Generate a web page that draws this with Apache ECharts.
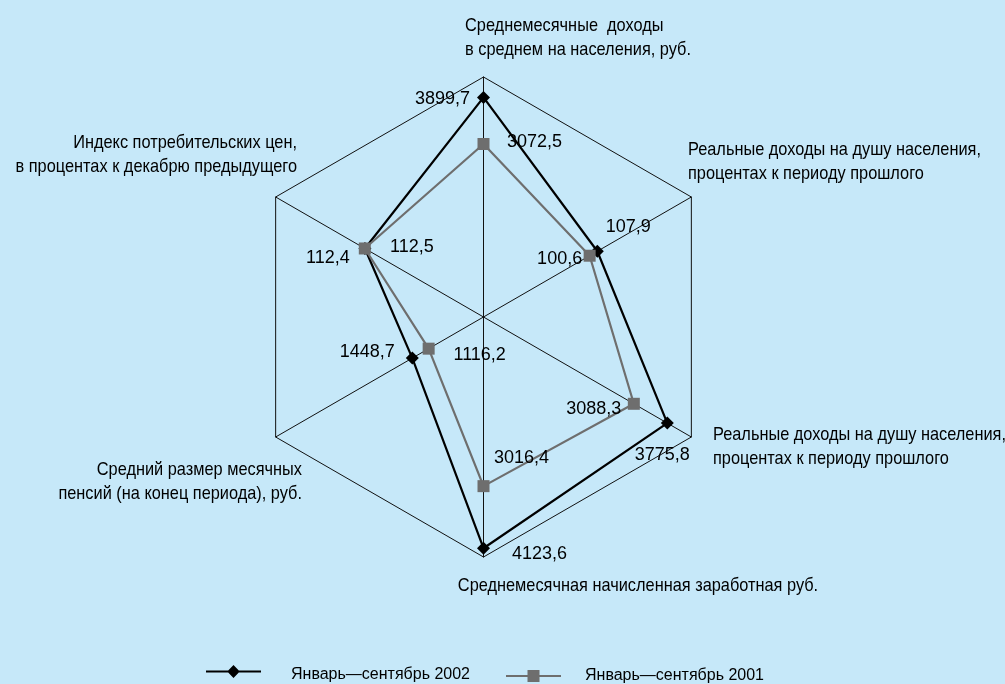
<!DOCTYPE html>
<html>
<head>
<meta charset="utf-8">
<script src="https://cdn.jsdelivr.net/npm/echarts@6/dist/echarts.min.js"></script>
<style>
  html, body { margin: 0; padding: 0; background: #c6e8f9; }
  #chart { width: 1005px; height: 684px; }
</style>
</head>
<body>
<div id="chart"></div>
<script>
// Indicators, listed counter-clockwise from the top axis
const categories = [
  'Среднемесячные  доходы\nв среднем на населения, руб.',
  'Индекс потребительских цен,\nв процентах к декабрю предыдущего',
  'Средний размер месячных\nпенсий (на конец периода), руб.',
  'Среднемесячная начисленная заработная руб.',
  'Реальные доходы на душу населения,\nпроцентах к периоду прошлого',
  'Реальные доходы на душу населения,\nпроцентах к периоду прошлого'
];
const axisMax = [4262, 197, 4230, 4280, 4270, 197];

const seriesNames = ['Январь—сентябрь 2002', 'Январь—сентябрь 2001'];
const values2002 = [3899.7, 112.4, 1448.7, 4123.6, 3775.8, 107.9];
const values2001 = [3072.5, 112.5, 1116.2, 3016.4, 3088.3, 100.6];

// where each value label sits relative to its vertex [dx, dy]
const labelShift2002 = [[-41, 2], [-37, 9], [-45, -6], [56, 6], [-5, 32], [31, -24]];
const labelShift2001 = [[51, -2], [47, -1], [51, 6], [38, -28], [-40, 5], [-30, 3]];

// where each indicator caption goes: [x, y, align]
const captionPlace = [
  [465, 38, 'left'],
  [297, 155, 'right'],
  [302, 482, 'right'],
  [638, 586, 'center'],
  [713, 447, 'left'],
  [688, 162, 'left']
];

const FONT = "'Liberation Sans', Arial, sans-serif";
const VALUE_FS = 18;
const CAPTION_FS = 19;
const CAPTION_SCALE = 0.86;   // condensed look for the captions
const LEGEND_FS = 16;

const fmt = v => v.toFixed(1).replace('.', ',');

function valueLabel(values, shifts) {
  const rich = {};
  shifts.forEach(([dx, dy], i) => {
    rich['v' + i] = {
      fontFamily: FONT, fontSize: VALUE_FS, color: '#000',
      padding: [dy > 0 ? 2 * dy : 0, dx < 0 ? -2 * dx : 0, dy < 0 ? -2 * dy : 0, dx > 0 ? 2 * dx : 0]
    };
  });
  return {
    show: true,
    position: 'inside',
    fontFamily: FONT, fontSize: VALUE_FS, color: '#000',
    formatter: p => {
      const i = p.dimensionIndex != null ? p.dimensionIndex : values.indexOf(p.value);
      return '{v' + i + '|' + fmt(values[i]) + '}';
    },
    rich
  };
}

function legendText(pad) {
  return {
    fontFamily: FONT, fontSize: LEGEND_FS, color: '#000',
    rich: { t: { fontFamily: FONT, fontSize: LEGEND_FS, color: '#000', padding: pad } }
  };
}

const chart = echarts.init(document.getElementById('chart'), null, { renderer: 'canvas' });

chart.setOption({
  backgroundColor: '#c6e8f9',
  animation: false,
  textStyle: { fontFamily: FONT },
  radar: {
    center: [483.5, 317],
    radius: 240,
    startAngle: 90,
    splitNumber: 1,
    shape: 'polygon',
    indicator: categories.map((name, i) => ({ name, min: 0, max: axisMax[i] })),
    axisName: { show: false },
    axisLine: { lineStyle: { color: '#111', width: 1 } },
    splitLine: { lineStyle: { color: '#111', width: 1 } },
    splitArea: { show: false },
    axisTick: { show: false },
    axisLabel: { show: false }
  },
  legend: [
    {
      left: 206, top: 665, padding: 0, itemWidth: 55, itemHeight: 13,
      selectedMode: false,
      itemStyle: { borderWidth: 0 },
      data: [{ name: seriesNames[0], icon: 'path://M0,5.5H22.2L27.5,0L32.8,5.5H55V7.5H32.8L27.5,13L22.2,7.5H0Z' }],
      formatter: name => '{t|' + name + '}',
      textStyle: legendText([7, 0, 0, 25])
    },
    {
      left: 506, top: 668, padding: 0, itemWidth: 55, itemHeight: 12,
      selectedMode: false,
      itemStyle: { borderWidth: 0 },
      data: [{ name: seriesNames[1], icon: 'path://M0,5H21.5V0H33.5V5H55V7H33.5V12H21.5V7H0Z' }],
      formatter: name => '{t|' + name + '}',
      textStyle: legendText([0, 0, 0, 19])
    }
  ],
  graphic: categories.map((text, i) => ({
    type: 'text',
    x: captionPlace[i][0],
    y: captionPlace[i][1],
    scaleX: CAPTION_SCALE,
    silent: true,
    style: {
      text,
      fill: '#000',
      font: CAPTION_FS + 'px ' + FONT,
      align: captionPlace[i][2],
      verticalAlign: 'middle',
      lineHeight: 24
    }
  })),
  series: [
    {
      type: 'radar',
      name: seriesNames[0],
      symbol: 'diamond',
      symbolSize: 13,
      lineStyle: { color: '#000', width: 2.2 },
      itemStyle: { color: '#000' },
      label: valueLabel(values2002, labelShift2002),
      data: [{ name: seriesNames[0], value: values2002 }]
    },
    {
      type: 'radar',
      name: seriesNames[1],
      symbol: 'rect',
      symbolSize: 12,
      lineStyle: { color: '#6e6e6e', width: 2.2 },
      itemStyle: { color: '#6e6e6e' },
      label: valueLabel(values2001, labelShift2001),
      data: [{ name: seriesNames[1], value: values2001 }]
    }
  ]
});
</script>
</body>
</html>
